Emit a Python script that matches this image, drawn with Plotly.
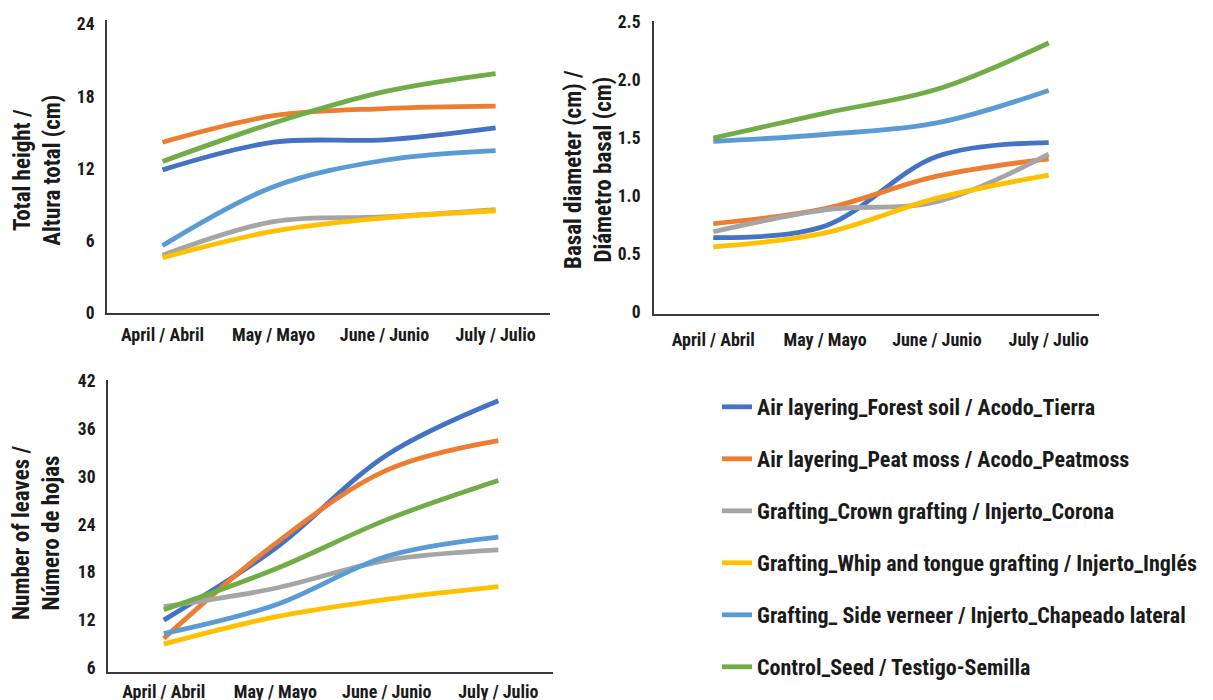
import plotly.graph_objects as go

# ---------------- data ----------------
months = ["April / Abril", "May / Mayo", "June / Junio", "July / Julio"]

series_names = [
    "Air layering_Forest soil / Acodo_Tierra",
    "Air layering_Peat moss / Acodo_Peatmoss",
    "Grafting_Crown grafting / Injerto_Corona",
    "Grafting_Whip and tongue grafting / Injerto_Inglés",
    "Grafting_ Side verneer / Injerto_Chapeado lateral",
    "Control_Seed / Testigo-Semilla",
]
series_colors = ["#4472C4", "#ED7D31", "#A5A5A5", "#FFC000", "#5B9BD5", "#70AD47"]

# Total height (cm)
height_forest_soil = [11.9, 14.2, 14.4, 15.4]
height_peat_moss = [14.2, 16.4, 17.0, 17.2]
height_crown = [4.8, 7.6, 8.0, 8.6]
height_whip = [4.6, 6.8, 7.9, 8.5]
height_side_veneer = [5.6, 10.5, 12.7, 13.5]
height_control = [12.6, 15.8, 18.4, 19.9]

# Basal diameter (cm)
diam_forest_soil = [0.64, 0.74, 1.34, 1.46]
diam_peat_moss = [0.76, 0.89, 1.17, 1.32]
diam_crown = [0.69, 0.88, 0.95, 1.36]
diam_whip = [0.56, 0.68, 0.98, 1.18]
diam_side_veneer = [1.47, 1.53, 1.63, 1.91]
diam_control = [1.50, 1.715, 1.92, 2.32]

# Number of leaves
leaves_forest_soil = [12.0, 21.0, 32.7, 39.5]
leaves_peat_moss = [9.7, 21.6, 30.8, 34.5]
leaves_crown = [13.7, 16.0, 19.5, 20.8]
leaves_whip = [9.0, 12.4, 14.6, 16.2]
leaves_side_veneer = [10.3, 13.9, 20.0, 22.4]
leaves_control = [13.3, 18.4, 24.6, 29.5]

height_ticks = [0, 6, 12, 18, 24]
diam_ticks = [0, 0.5, 1.0, 1.5, 2.0, 2.5]
diam_tick_text = ["0", "0.5", "1.0", "1.5", "2.0", "2.5"]
leaves_ticks = [6, 12, 18, 24, 30, 36, 42]

height_series = [height_forest_soil, height_peat_moss, height_crown,
                 height_whip, height_side_veneer, height_control]
diam_series = [diam_forest_soil, diam_peat_moss, diam_crown,
               diam_whip, diam_side_veneer, diam_control]
leaves_series = [leaves_forest_soil, leaves_peat_moss, leaves_crown,
                 leaves_whip, leaves_side_veneer, leaves_control]

# ---------------- figure ----------------
FONT = "Liberation Sans Narrow, Arial Narrow, Roboto Condensed, sans-serif"
W, H = 1213, 700
OFF_X, OFF_Y = 7, 8  # page body margin

fig = go.Figure()

panels = [("x", "y", height_series, True),
          ("x2", "y2", diam_series, False),
          ("x3", "y3", leaves_series, False)]

for xa, ya, data, show in panels:
    for i, (name, color) in enumerate(zip(series_names, series_colors)):
        fig.add_trace(go.Scatter(
            x=months, y=data[i], mode="lines", name=name,
            line=dict(color=color, width=4.8, shape="spline", smoothing=1),
            legendgroup=f"g{i}", showlegend=show,
            xaxis=xa, yaxis=ya, hoverinfo="x+y+name",
        ))

axis_common = dict(
    showline=True, linecolor="#3a3a3a", linewidth=2,
    showgrid=False, zeroline=False, ticks="", automargin=False,
    tickfont=dict(family=FONT, size=17.5, color="#1a1a1a", weight="bold"),
)
xfont = dict(family=FONT, size=18, color="#1a1a1a", weight="bold")


def px_x(a, b):
    return [(a - OFF_X) / W, (b - OFF_X) / W]


def px_y(top, bottom):
    return [1 - (bottom - OFF_Y) / H, 1 - (top - OFF_Y) / H]


fig.update_layout(
    width=W, height=H, autosize=False,
    margin=dict(l=0, r=0, t=0, b=0, pad=0),
    paper_bgcolor="white", plot_bgcolor="white",
    font=dict(family=FONT, color="#1a1a1a"),
    xaxis=dict(axis_common, domain=px_x(106, 549), range=[-0.5, 3.49],
               tickfont=xfont, ticklabelstandoff=4, anchor="y"),
    yaxis=dict(axis_common, domain=px_y(20, 313), range=[0, 24.36],
               tickvals=height_ticks, ticklabelstandoff=7, anchor="x"),
    xaxis2=dict(axis_common, domain=px_x(653, 1098), range=[-0.53, 3.45],
                tickfont=xfont, ticklabelstandoff=8, anchor="y2"),
    yaxis2=dict(axis_common, domain=px_y(21, 314), range=[-0.02, 2.51],
                tickvals=diam_ticks, ticktext=diam_tick_text,
                ticklabelstandoff=8, anchor="x2"),
    xaxis3=dict(axis_common, domain=px_x(107, 552), range=[-0.5, 3.49],
                tickfont=xfont, ticklabelstandoff=2, anchor="y3"),
    yaxis3=dict(axis_common, domain=px_y(380, 672), range=[5.5, 42.1],
                tickvals=leaves_ticks, ticklabelstandoff=7, anchor="x3"),
    legend=dict(
        x=(716 - OFF_X) / W, y=1 - (386 - OFF_Y) / H, xanchor="left", yanchor="top",
        font=dict(family=FONT, size=22, color="#1a1a1a", weight="bold"),
        tracegroupgap=20.4, bgcolor="rgba(0,0,0,0)", itemclick=False,
    ),
    showlegend=True,
)

title_font = dict(family=FONT, size=23, color="#1a1a1a", weight="bold")
for text, cx, cy in [
    ("Total height /<br>Altura total (cm)", 35.7, 170),
    ("Basal diameter (cm) /<br>Diámetro basal (cm)", 587, 170),
    ("Number of leaves /<br>Número de hojas", 35, 533),
]:
    fig.add_annotation(text=text, xref="paper", yref="paper",
                       x=(cx - OFF_X) / W, y=1 - (cy - OFF_Y) / H,
                       xanchor="center", yanchor="middle",
                       textangle=-90, showarrow=False, font=title_font)

fig.write_html("out.html")
